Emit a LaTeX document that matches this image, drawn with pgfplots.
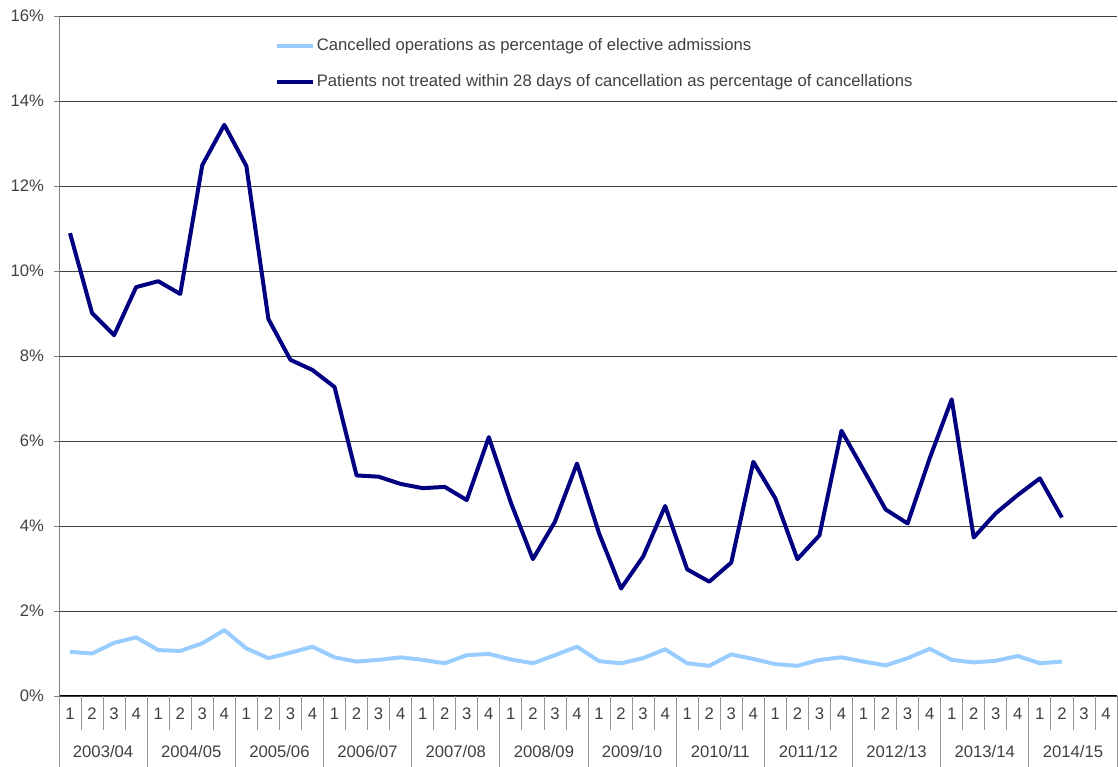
\documentclass[border=0pt]{standalone}
\usepackage{pgfplots}
\pgfplotsset{compat=1.18}
\usepackage{pgfplotstable}
\usetikzlibrary{calc}
\usepackage{fontspec}
\setmainfont{Liberation Sans}

\definecolor{navyline}{RGB}{0,0,128}
\definecolor{paleblue}{RGB}{153,204,255}
\definecolor{txt}{RGB}{64,64,64}
\definecolor{gridc}{RGB}{60,60,60}
\definecolor{sepc}{RGB}{150,150,150}

% quarter position, cancelled ops %, not treated within 28 days %
\pgfplotstableread{
x    canc  nottr
0.5  1.04  10.89
1.5  1.00  9.01
2.5  1.25  8.49
3.5  1.38  9.62
4.5  1.08  9.76
5.5  1.06  9.46
6.5  1.24  12.49
7.5  1.55  13.44
8.5  1.12  12.47
9.5  0.89  8.87
10.5 1.02  7.91
11.5 1.16  7.67
12.5 0.91  7.27
13.5 0.81  5.19
14.5 0.85  5.16
15.5 0.91  4.99
16.5 0.85  4.89
17.5 0.77  4.92
18.5 0.96  4.61
19.5 0.99  6.09
20.5 0.86  4.55
21.5 0.77  3.22
22.5 0.96  4.10
23.5 1.16  5.47
24.5 0.82  3.83
25.5 0.77  2.53
26.5 0.89  3.28
27.5 1.10  4.47
28.5 0.77  2.98
29.5 0.71  2.69
30.5 0.98  3.14
31.5 0.87  5.51
32.5 0.75  4.65
33.5 0.71  3.22
34.5 0.85  3.78
35.5 0.91  6.24
36.5 0.81  5.32
37.5 0.72  4.39
38.5 0.89  4.06
39.5 1.11  5.59
40.5 0.85  6.98
41.5 0.79  3.73
42.5 0.83  4.30
43.5 0.94  4.73
44.5 0.77  5.12
45.5 0.81  4.20
}\datatable

\tikzset{yr/.style={anchor=base, yshift=-46.5pt, font=\fontsize{12.5}{14}\selectfont, text=txt}}

\begin{document}
\begin{tikzpicture}
\begin{axis}[
    name=main,
    at={(0,0)}, anchor=south west,
    width=793.5pt, height=510pt, scale only axis,
    xmin=0, xmax=48, ymin=0, ymax=16,
    clip=false,
    axis x line*=bottom, axis y line*=left,
    x axis line style={draw=black, line width=0.75pt},
    y axis line style={draw=gray, line width=0.75pt},
    ytick={0,2,...,16},
    yticklabel={\pgfmathprintnumber{\tick}\%},
    ymajorgrids, grid style={gridc, line width=0.6pt},
    ytick align=outside, major tick length=3.75pt,
    ytick style={gray, line width=0.6pt},
    xtick={0.5,1.5,...,47.5},
    xticklabels={1,2,3,4,1,2,3,4,1,2,3,4,1,2,3,4,1,2,3,4,1,2,3,4,1,2,3,4,1,2,3,4,1,2,3,4,1,2,3,4,1,2,3,4,1,2,3,4},
    xtick style={draw=none},
    /pgf/number format/assume math mode=true,
    tick label style={font=\fontsize{12.5}{14}\selectfont, text=txt},
    xticklabel style={anchor=base, yshift=-18pt},
    yticklabel style={xshift=-4pt},
    legend style={at={(rel axis cs:0.2,0.975)}, anchor=north west, draw=none, fill=none,
        font=\fontsize{12.5}{14}\selectfont, text=txt, row sep=12.5pt, cells={anchor=west},
        nodes={inner xsep=1.5pt}},
    legend image code/.code={\draw[#1] (0pt,0pt) -- (27pt,0pt);},
]
\addplot[paleblue, line width=3pt, line join=round] table[x=x, y=canc] {\datatable};
\addlegendentry{Cancelled operations as percentage of elective admissions}
\addplot[navyline, line width=3pt, line join=round] table[x=x, y=nottr] {\datatable};
\addlegendentry{Patients not treated within 28 days of cancellation as percentage of cancellations}

\pgfplotsinvokeforeach{1,2,3,5,6,7,9,10,11,13,14,15,17,18,19,21,22,23,25,26,27,29,30,31,33,34,35,37,38,39,41,42,43,45,46,47}{
  \draw[sepc, line width=0.6pt] (axis cs:#1,0) -- ++(0,-25.5pt);
}
\pgfplotsinvokeforeach{0,4,8,12,16,20,24,28,32,36,40,44,48}{
  \draw[sepc, line width=0.6pt] (axis cs:#1,0) -- ++(0,-53.25pt);
}
\node[yr] at (axis cs:2,0) {2003/04};
\node[yr] at (axis cs:6,0) {2004/05};
\node[yr] at (axis cs:10,0) {2005/06};
\node[yr] at (axis cs:14,0) {2006/07};
\node[yr] at (axis cs:18,0) {2007/08};
\node[yr] at (axis cs:22,0) {2008/09};
\node[yr] at (axis cs:26,0) {2009/10};
\node[yr] at (axis cs:30,0) {2010/11};
\node[yr] at (axis cs:34,0) {2011/12};
\node[yr] at (axis cs:38,0) {2012/13};
\node[yr] at (axis cs:42,0) {2013/14};
\node[yr] at (axis cs:46,0) {2014/15};
\end{axis}
\pgfresetboundingbox
\path (main.south west) ++(-44.25pt,-53.25pt) rectangle ($(main.north east)+(0.75pt,12pt)$);
\end{tikzpicture}
\end{document}
